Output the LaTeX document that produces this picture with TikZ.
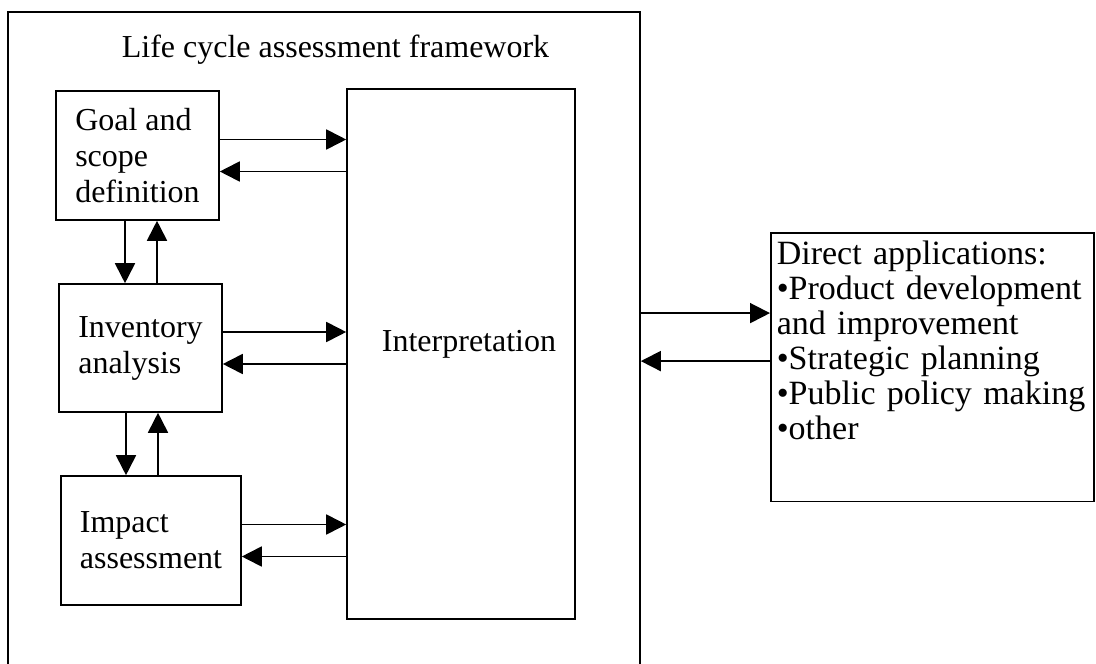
\documentclass[tikz,border=0pt]{standalone}
\usepackage{fontspec}
\setmainfont{Liberation Serif}
\usetikzlibrary{arrows.meta, positioning}
\newcommand{\lcafont}{\fontsize{16}{18}\selectfont}
\tikzstyle{outerframe} = [rectangle, draw=black, line width=0.8pt, minimum width=316pt, minimum height=329pt]
\tikzstyle{stage} = [rectangle, draw=black, line width=0.8pt, align=left, font=\lcafont]
\tikzstyle{appbox} = [rectangle, draw=black, line width=0.8pt, align=left, text width=155.5pt, inner xsep=3pt, inner ysep=4pt, font={\fontsize{17}{17.5}\selectfont}]
\tikzstyle{arrow} = [line width=0.9pt, -{Triangle[length=10pt, width=10pt]}]

\begin{document}
\begin{tikzpicture}[x=0.5pt, y=-0.5pt]
\useasboundingbox (0,0) rectangle (1096,663);

% Frame and title
\node (frame) [outerframe] at (324,341) {};
\node (title) [font=\lcafont, anchor=base] at (335.5,58) {Life cycle assessment framework};

% Nodes
\node (goal) [stage, minimum width=81.5pt, minimum height=64.5pt] at (137.5,155.5) {Goal and\\scope\\definition};
\node (inv) [stage, minimum width=81.5pt, minimum height=64pt] at (140.5,348) {Inventory\\analysis};
\node (impact) [stage, minimum width=90pt, minimum height=64.5pt] at (151,540.5) {Impact\\assessment};
\node (interp) [stage, minimum width=114pt, minimum height=265pt] at (461,354) {};
\node (interptext) [font=\lcafont, anchor=base] at (469,351) {Interpretation};
\node (direct) [appbox, anchor=north west] at (770,232) {Direct applications:\\•Product development\\and improvement\\•Strategic planning\\•Public policy making\\•other\\[9.5pt]\mbox{}};

% Arrows
\draw [arrow] ([yshift=8pt]goal.east) -- ([yshift=8pt]goal.east -| interp.west);
\draw [arrow] ([yshift=-8pt]goal.east -| interp.west) -- ([yshift=-8pt]goal.east);
\draw [arrow] ([yshift=8pt]inv.east) -- ([yshift=8pt]inv.east -| interp.west);
\draw [arrow] ([yshift=-8pt]inv.east -| interp.west) -- ([yshift=-8pt]inv.east);
\draw [arrow] ([yshift=8pt]impact.east) -- ([yshift=8pt]impact.east -| interp.west);
\draw [arrow] ([yshift=-8pt]impact.east -| interp.west) -- ([yshift=-8pt]impact.east);

\draw [arrow] ([xshift=-6.25pt]goal.south) -- ([xshift=-6.25pt]goal.south |- inv.north);
\draw [arrow] ([xshift=9.75pt]goal.south |- inv.north) -- ([xshift=9.75pt]goal.south);
\draw [arrow] ([xshift=-7.25pt]inv.south) -- ([xshift=-7.25pt]inv.south |- impact.north);
\draw [arrow] ([xshift=8.75pt]inv.south |- impact.north) -- ([xshift=8.75pt]inv.south);

\draw [arrow] ([yshift=27pt]direct.west -| frame.east) -- ([yshift=27pt]direct.west);
\draw [arrow] ([yshift=3pt]direct.west) -- ([yshift=3pt]direct.west -| frame.east);

\end{tikzpicture}
\end{document}
